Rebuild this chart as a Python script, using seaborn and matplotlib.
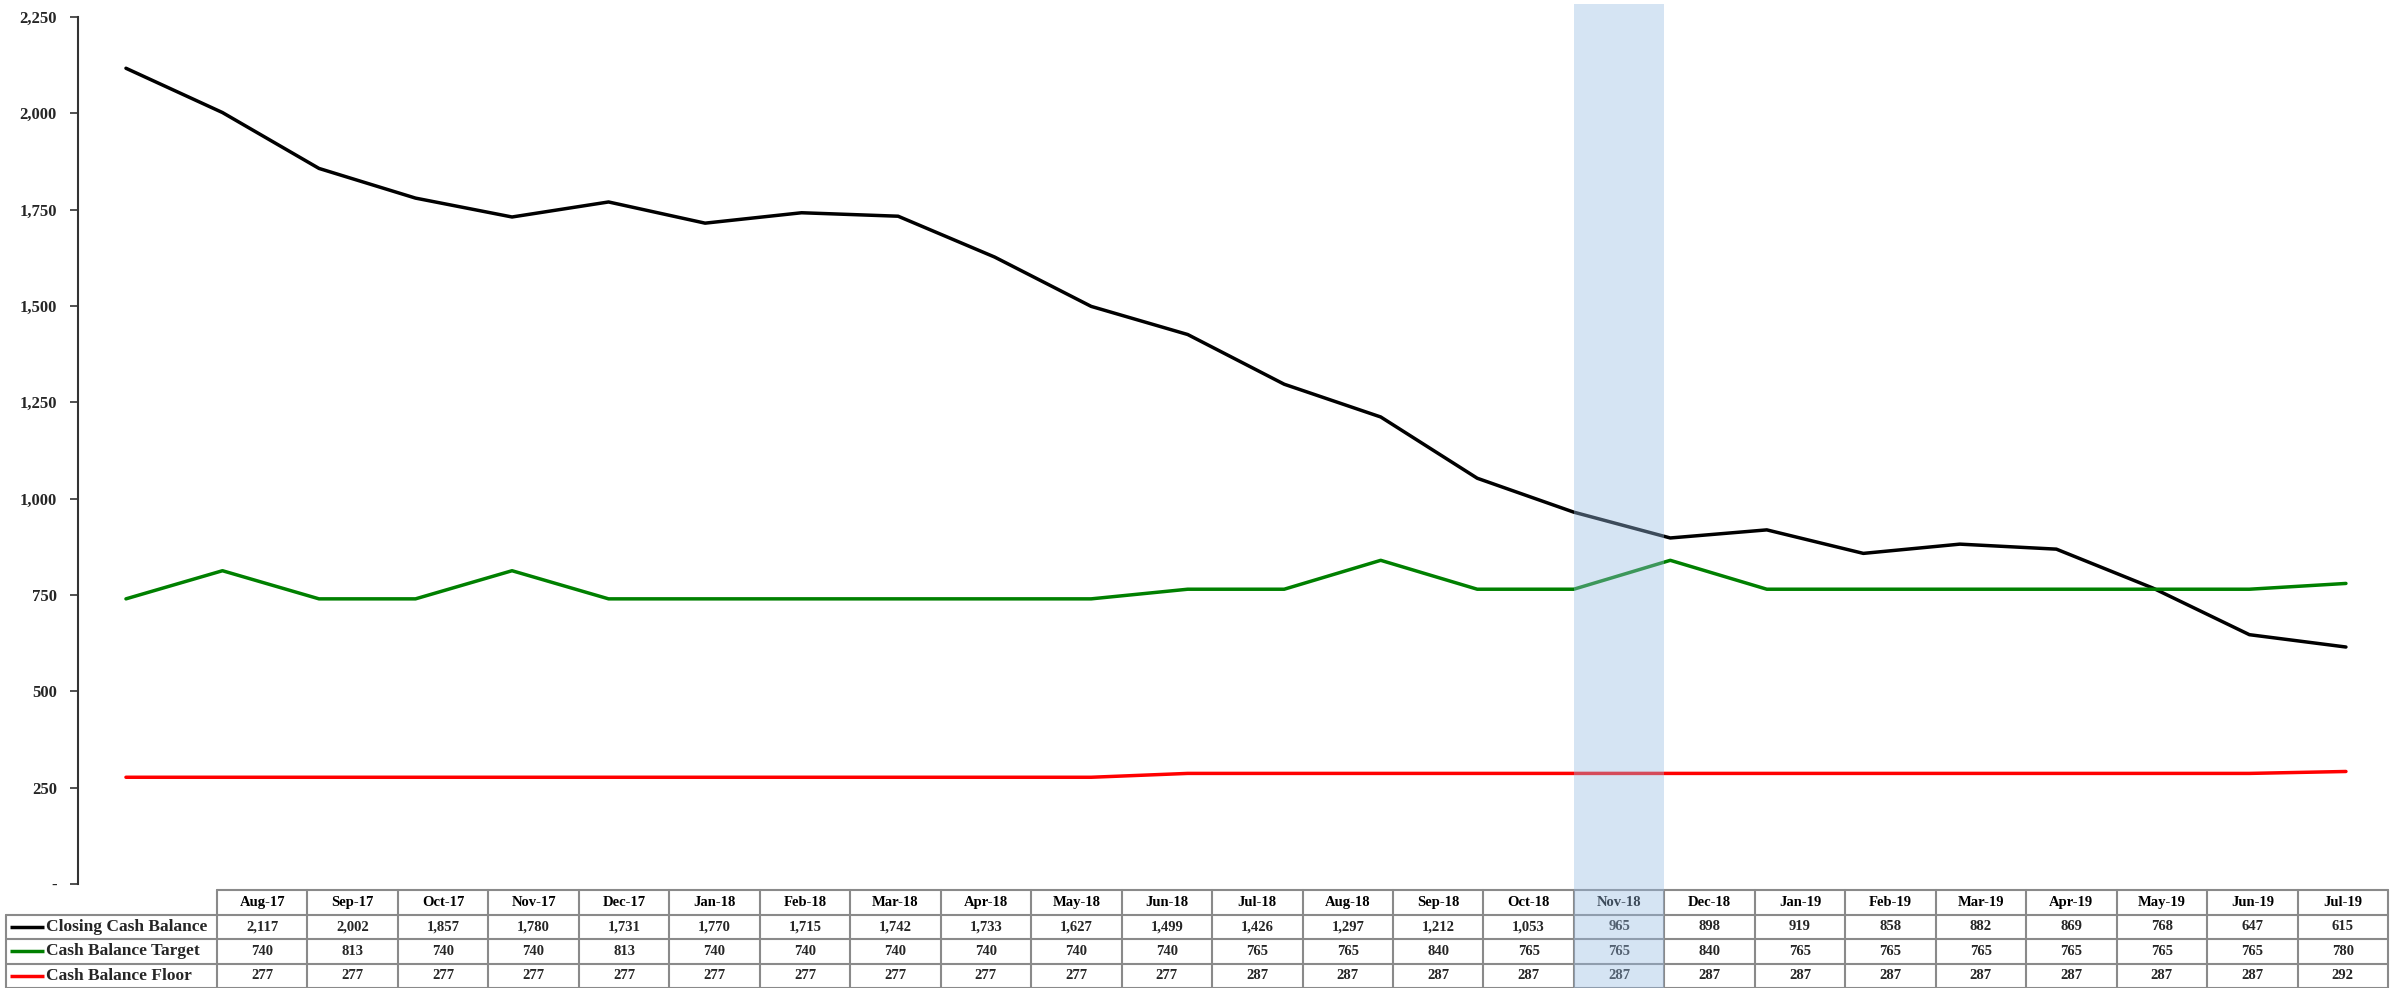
import matplotlib
matplotlib.use("Agg")
import numpy as np
import pandas as pd
import matplotlib.pyplot as plt
import seaborn as sns
from matplotlib.patches import Rectangle
from matplotlib.ticker import FuncFormatter

months = ["Aug-17", "Sep-17", "Oct-17", "Nov-17", "Dec-17", "Jan-18", "Feb-18", "Mar-18",
          "Apr-18", "May-18", "Jun-18", "Jul-18", "Aug-18", "Sep-18", "Oct-18", "Nov-18",
          "Dec-18", "Jan-19", "Feb-19", "Mar-19", "Apr-19", "May-19", "Jun-19", "Jul-19"]
closing = [2117, 2002, 1857, 1780, 1731, 1770, 1715, 1742, 1733, 1627, 1499, 1426,
           1297, 1212, 1053, 965, 898, 919, 858, 882, 869, 768, 647, 615]
target = [740, 813, 740, 740, 813, 740, 740, 740, 740, 740, 740, 765,
          765, 840, 765, 765, 840, 765, 765, 765, 765, 765, 765, 780]
floor_ = [277, 277, 277, 277, 277, 277, 277, 277, 277, 277, 277, 287,
          287, 287, 287, 287, 287, 287, 287, 287, 287, 287, 287, 292]
series_names = ["Closing Cash Balance", "Cash Balance Target", "Cash Balance Floor"]
series_colors = ["#000000", "#008000", "#FF0000"]
highlight_month = "Nov-18"

sns.set_theme(style="white")
plt.rcParams["font.family"] = ["Liberation Serif", "DejaVu Serif"]
plt.rcParams["font.weight"] = "bold"

W, H = 2401, 988
fig = plt.figure(figsize=(W / 100, H / 100), dpi=100)
fig.patch.set_facecolor("white")

# main chart axes (pixel layout)
ax = fig.add_axes([77.7 / W, 104 / H, 2316.5 / W, 867 / H])
ax.set_zorder(1)
ax.set_facecolor("none")

df = pd.DataFrame({
    "idx": list(range(len(months))) * 3,
    "value": closing + target + floor_,
    "series": [s for s in series_names for _ in months],
})
sns.lineplot(data=df, x="idx", y="value", hue="series",
             palette=dict(zip(series_names, series_colors)),
             linewidth=2.5, legend=False, ax=ax)

ax.set_xlim(-0.5, len(months) - 0.5)
ax.set_ylim(0, 2250)
ax.set_yticks(np.arange(0, 2251, 250))
ax.yaxis.set_major_formatter(FuncFormatter(lambda v, p: "-" if v == 0 else f"{v:,.0f}"))
ax.set_xticks([])
ax.set_xlabel("")
ax.set_ylabel("")
for s in ["top", "right", "bottom"]:
    ax.spines[s].set_visible(False)
ax.spines["left"].set_color("#333333")
ax.spines["left"].set_linewidth(1.5)
ax.tick_params(axis="y", direction="out", length=6, width=1.2, color="#333333",
               pad=9, labelsize=12, left=True)
for t in ax.get_yticklabels():
    t.set_fontweight("bold")

# overlay axes for the data table and highlight band
ov = fig.add_axes([0, 0, 1, 1])
ov.set_zorder(2)
ov.set_facecolor("none")
ov.set_xlim(0, W)
ov.set_ylim(H, 0)
ov.axis("off")

tab_x0, tab_x1 = 217, 2388
lab_x0 = 6
col_w = (tab_x1 - tab_x0) / len(months)
row_y = [890, 914.5, 939, 963.5, 987.5]
grid_c = "#8a8a8a"

# horizontal borders
ov.plot([tab_x0, tab_x1], [row_y[0], row_y[0]], color=grid_c, lw=1.5)
for y in row_y[1:]:
    ov.plot([lab_x0, tab_x1], [y, y], color=grid_c, lw=1.5)
# vertical borders
for i in range(len(months) + 1):
    x = tab_x0 + i * col_w
    ov.plot([x, x], [row_y[0], row_y[-1]], color=grid_c, lw=1.5)
ov.plot([lab_x0, lab_x0], [row_y[1], row_y[-1]], color=grid_c, lw=1.5)

# header
for i, m in enumerate(months):
    ov.text(tab_x0 + (i + 0.5) * col_w, (row_y[0] + row_y[1]) / 2, m,
            ha="center", va="center", fontsize=10.5, fontweight="bold", color="black")

rows = [closing, target, floor_]
for r, (name, vals, c) in enumerate(zip(series_names, rows, series_colors)):
    yc = (row_y[r + 1] + row_y[r + 2]) / 2
    ov.plot([10, 44], [yc, yc], color=c, lw=2.5, solid_capstyle="butt")
    ov.text(46, yc, name, ha="left", va="center", fontsize=12.5, fontweight="bold")
    for i, v in enumerate(vals):
        ov.text(tab_x0 + (i + 0.5) * col_w, yc, f"{v:,}", ha="center", va="center",
                fontsize=10.5, fontweight="bold")

# highlighted month band (semi-transparent, on top)
hi = months.index(highlight_month)
ov.add_patch(Rectangle((tab_x0 + hi * col_w, 4), col_w, H - 4,
                       facecolor="#98BCE3", alpha=0.4, edgecolor="none", zorder=5))

fig.savefig("out.png", dpi=100)
